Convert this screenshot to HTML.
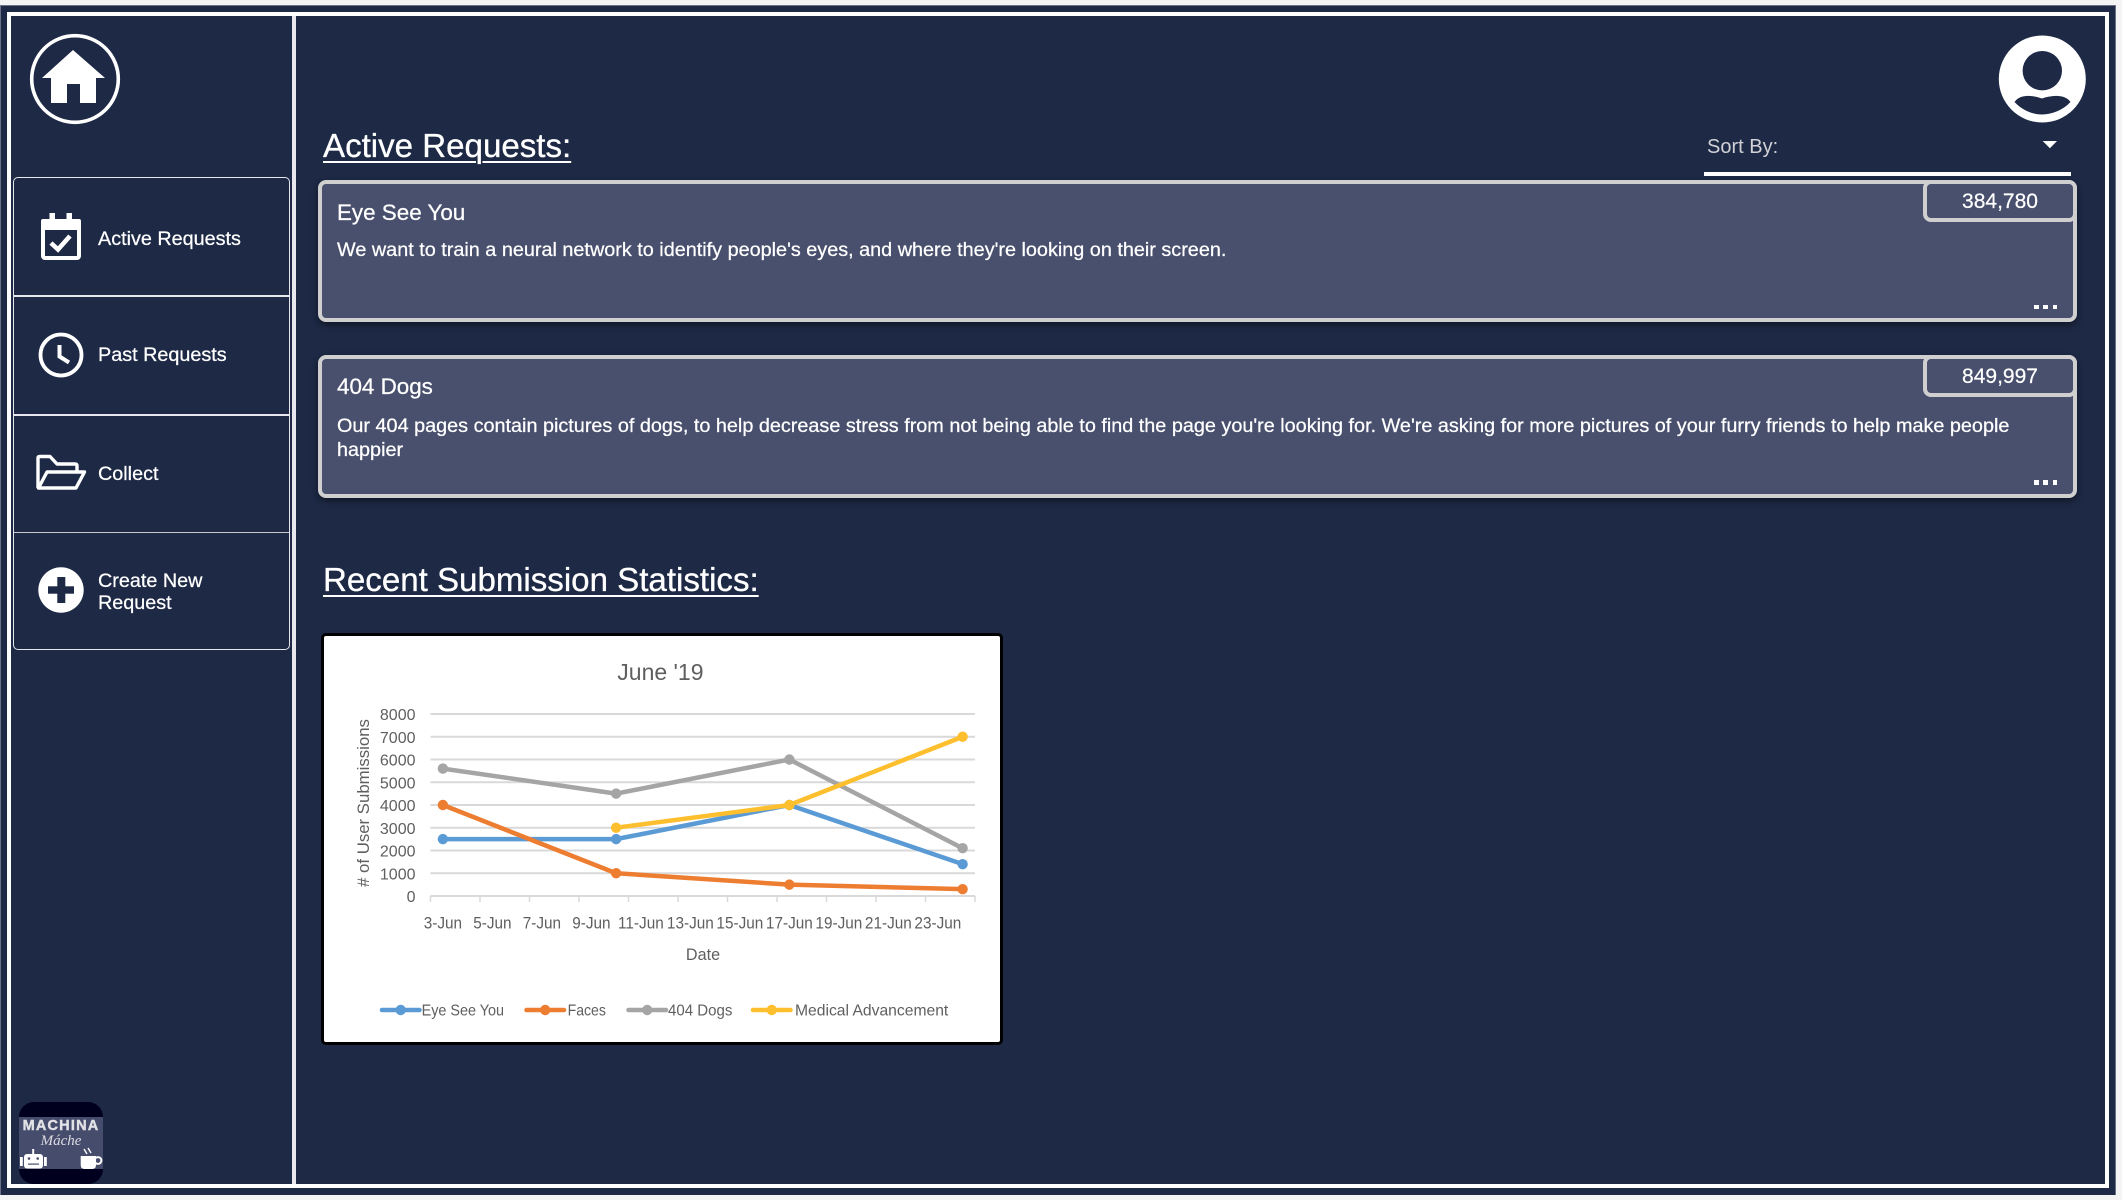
<!DOCTYPE html>
<html lang="en">
<head>
<meta charset="utf-8">
<title>Active Requests</title>
<style>
html,body{margin:0;padding:0;width:2122px;height:1200px;overflow:hidden;background:#f4f4f4;font-family:"Liberation Sans",Arial,sans-serif;color:#fff}
.abs,.t{position:absolute}
.t{white-space:nowrap;line-height:1}
#stage{position:absolute;left:0;top:5px;width:2116px;height:1190px;background:#1d2945;box-shadow:inset 1px 0 0 #6b7288,inset 0 1px 0 #6b7288,inset -1px 0 0 #6b7288}
.h{font-size:33.1px;text-decoration:underline;text-decoration-thickness:2px;text-underline-offset:4px;left:323px;-webkit-text-stroke:.3px #fff}
.nav{font-size:19.8px;left:98px;-webkit-text-stroke:.25px #fff}
.card{left:318px;width:1759px;box-sizing:border-box;background:#49506d;border:4px solid #cfcfcf;border-radius:8px;box-shadow:0 3px 7px rgba(0,0,0,.45)}
.badge{left:1923px;width:154px;height:42px;box-sizing:border-box;border:4px solid #cfcfcf;border-radius:8px;background:#49506d;font-size:21px;text-align:center;line-height:35px;-webkit-text-stroke:.2px #fff}
.ct{font-size:22.4px;left:337px;-webkit-text-stroke:.25px #fff}
.cd{font-size:19.82px;line-height:24px;left:337px;-webkit-text-stroke:.25px #fff}
.dot{position:absolute;width:4.6px;height:4.2px;background:#fff}
</style>
</head>
<body>
<div id="stage"></div>

<!-- frame -->
<div class="abs" style="left:7px;top:12px;width:2102px;height:1176px;box-sizing:border-box;border:4px solid #fff"></div>
<div class="abs" style="left:292px;top:16px;width:3.5px;height:1168px;background:#e8e8ee"></div>

<!-- home -->
<svg class="abs" style="left:28px;top:32px" width="96" height="96" viewBox="28 32 96 96">
  <circle cx="75" cy="79" r="43.3" fill="none" stroke="#fff" stroke-width="3.6"/>
  <path d="M73 50 L105 78 L96 78 L96 103 L80 103 L80 84 L67 84 L67 103 L51 103 L51 78 L42 78 Z" fill="#fff"/>
</svg>

<!-- nav -->
<div class="abs" style="left:13px;top:177px;width:277px;height:473px;box-sizing:border-box;border:1.5px solid #e6e6ec;border-radius:5px"></div>
<div class="abs" style="left:14px;top:295px;width:275px;height:1.5px;background:#e6e6ec"></div>
<div class="abs" style="left:14px;top:414px;width:275px;height:1.5px;background:#e6e6ec"></div>
<div class="abs" style="left:14px;top:531.5px;width:275px;height:1.5px;background:#c9c9d0"></div>

<svg class="abs" style="left:36px;top:208px" width="52" height="58" viewBox="36 208 52 58">
  <rect x="43" y="221" width="36" height="37" rx="2" fill="none" stroke="#fff" stroke-width="4"/>
  <rect x="41" y="219" width="40" height="11" rx="2" fill="#fff"/>
  <rect x="49.5" y="213" width="5.5" height="9" fill="#fff"/>
  <rect x="66.5" y="213" width="5.5" height="9" fill="#fff"/>
  <path d="M51 243 L58 249.5 L70 236" fill="none" stroke="#fff" stroke-width="4.6"/>
</svg>
<div class="t nav" style="top:230px">Active Requests</div>

<svg class="abs" style="left:36px;top:330px" width="50" height="50" viewBox="36 330 50 50">
  <circle cx="61" cy="355" r="20.5" fill="none" stroke="#fff" stroke-width="3.8"/>
  <path d="M59.5 345 L59.5 356.5 L69 362.5" fill="none" stroke="#fff" stroke-width="4"/>
</svg>
<div class="t nav" style="top:346px">Past Requests</div>

<svg class="abs" style="left:32px;top:450px" width="58" height="44" viewBox="32 450 58 44">
  <path d="M38 488 L38 458 Q38 456.5 40 456.5 L50 456.5 L57 464 L75 464 Q77 464 77 466 L77 471" fill="none" stroke="#fff" stroke-width="3.4" stroke-linejoin="round"/>
  <path d="M38.5 488 L47 472 L84.5 472 L76 488 Z" fill="none" stroke="#fff" stroke-width="3.4" stroke-linejoin="round"/>
</svg>
<div class="t nav" style="top:465px">Collect</div>

<svg class="abs" style="left:36px;top:565px" width="50" height="50" viewBox="36 565 50 50">
  <circle cx="61" cy="590" r="22.7" fill="#fff"/>
  <rect x="48" y="586.3" width="26" height="7.4" fill="#1d2945"/>
  <rect x="57.3" y="577" width="8" height="26" fill="#1d2945"/>
</svg>
<div class="t nav" style="top:570px;line-height:22px">Create New<br>Request</div>

<!-- logo -->
<div class="abs" style="left:19px;top:1102px;width:84px;height:82px;border-radius:15px;background:#00001e;overflow:hidden">
  <div class="abs" style="left:0;top:15px;width:84px;height:52px;background:#464c6b"></div>
  <div class="t" style="left:0;width:84px;text-align:center;top:16.5px;font-size:14.5px;font-weight:bold;letter-spacing:1.2px;color:#e2e2e6;-webkit-text-stroke:.4px #e2e2e6">MACHINA</div>
  <div class="t" style="left:0;width:84px;text-align:center;top:32px;font-size:15px;font-family:'Liberation Serif',serif;font-style:italic;color:#dcdce2">Máche</div>
  <svg class="abs" style="left:0;top:0" width="84" height="82" viewBox="19 1102 84 82">
    <rect x="24" y="1154" width="19" height="14.5" rx="3" fill="#fff"/>
    <rect x="20" y="1157" width="2.8" height="9" fill="#fff"/>
    <rect x="44" y="1157" width="2.8" height="9" fill="#fff"/>
    <rect x="32.2" y="1149" width="2" height="5.5" fill="#fff"/>
    <circle cx="29" cy="1158.5" r="1.3" fill="#464c6b"/>
    <circle cx="37.7" cy="1158.5" r="1.3" fill="#464c6b"/>
    <rect x="28" y="1163.5" width="11" height="1.2" fill="#464c6b"/>
    <path d="M80.7 1156 H96 V1165 Q96 1169 92 1169 H84.7 Q80.7 1169 80.7 1165 Z" fill="#fff"/>
    <circle cx="98" cy="1160.5" r="3.4" fill="none" stroke="#fff" stroke-width="2"/>
    <path d="M84 1149 L87 1154 M88 1148 L91 1153" stroke="#fff" stroke-width="1.4"/>
  </svg>
</div>

<!-- avatar -->
<svg class="abs" style="left:1996px;top:33px" width="92" height="92" viewBox="1996 33 92 92">
  <circle cx="2042.3" cy="79" r="43.5" fill="#fff"/>
  <circle cx="2042.3" cy="70.7" r="19.7" fill="#1d2945"/>
  <path d="M2014.5 102 C2020 94 2032 95 2042 98.5 C2052 95 2065 94 2070.5 102 C2063 110 2052 114.5 2042 114.5 C2032 114.5 2022 110 2014.5 102 Z" fill="#1d2945"/>
</svg>

<!-- Section heading -->
<div class="t h" style="top:130px">Active Requests:</div>

<!-- sort -->
<div class="t" style="left:1707px;top:137px;font-size:20px;color:#d2d2d6">Sort By:</div>
<svg class="abs" style="left:2042px;top:140px" width="16" height="9" viewBox="0 0 16 9"><path d="M0.7 1 H15 L7.9 8.2 Z" fill="#fff"/></svg>
<div class="abs" style="left:1704px;top:172px;width:367px;height:3.6px;background:#fff"></div>

<!-- Card 1 -->
<div class="abs card" style="top:180px;height:142px"></div>
<div class="t ct" style="top:202px">Eye See You</div>
<div class="t cd" style="top:238px">We want to train a neural network to identify people's eyes, and where they're looking on their screen.</div>
<div class="abs badge" style="top:180px">384,780</div>
<div class="dot" style="left:2034.3px;top:304.6px"></div>
<div class="dot" style="left:2043.4px;top:304.6px"></div>
<div class="dot" style="left:2052.6px;top:304.6px"></div>

<!-- Card 2 -->
<div class="abs card" style="top:355px;height:143px"></div>
<div class="t ct" style="top:375.7px">404 Dogs</div>
<div class="t cd" style="top:413.8px">Our 404 pages contain pictures of dogs, to help decrease stress from not being able to find the page you're looking for. We're asking for more pictures of your furry friends to help make people<br>happier</div>
<div class="abs badge" style="top:355px">849,997</div>
<div class="dot" style="left:2034.3px;top:480.4px"></div>
<div class="dot" style="left:2043.4px;top:480.4px"></div>
<div class="dot" style="left:2052.6px;top:480.4px"></div>

<div class="t h" style="top:563.5px">Recent Submission Statistics:</div>

<!-- Chart card -->
<div class="abs" style="left:321px;top:633px;width:682px;height:412px;box-sizing:border-box;border:3px solid #000;border-radius:5px;background:#fff"></div>
<svg id="chart" class="abs" style="left:324px;top:636px" width="676" height="406" viewBox="324 636 676 406"></svg>

<script>
var chartTitle = "June '19";
var xAxisTitle = "Date";
var yAxisTitle = "# of User Submissions";
var seriesDays = [3, 10, 17, 24];
var seriesNames = ["Eye See You", "Faces", "404 Dogs", "Medical Advancement"];
var eyeSeeYou = [2500, 2500, 4000, 1400];
var faces = [4000, 1000, 500, 300];
var dogs404 = [5600, 4500, 6000, 2100];
var medicalAdvancement = [null, 3000, 4000, 7000];
var yTicks = [0, 1000, 2000, 3000, 4000, 5000, 6000, 7000, 8000];
var xTickDays = [3, 5, 7, 9, 11, 13, 15, 17, 19, 21, 23];
var xTickLabels = ["3-Jun", "5-Jun", "7-Jun", "9-Jun", "11-Jun", "13-Jun", "15-Jun", "17-Jun", "19-Jun", "21-Jun", "23-Jun"];

(function () {
  var svg = document.getElementById('chart');
  var NS = 'http://www.w3.org/2000/svg';
  var PLOT = { left: 430.5, right: 975, top: 714, bottom: 896, dayMin: 3, dayMax: 25, yMax: 8000 };
  var seriesValues = [eyeSeeYou, faces, dogs404, medicalAdvancement];
  var seriesColors = ['#5b9bd5', '#ed7d31', '#a5a5a5', '#fdbf2d'];
  var seriesSlugs = ['eye-see-you', 'faces', '404-dogs', 'medical-advancement'];
  var legendLineLeft = [382, 526.5, 628.5, 753];
  var legendTextLeft = [421.6, 567.6, 668, 795];
  var legendTextScale = [0.9, 0.88, 0.94, 0.98];
  var TEXT = '#5f5f5f';

  function xOfBand(day) {
    return PLOT.left + (day - PLOT.dayMin) * (PLOT.right - PLOT.left) / (PLOT.dayMax - PLOT.dayMin);
  }
  function xOf(day) { return xOfBand(day + 0.5); }
  function yOf(v) { return PLOT.bottom - (v / PLOT.yMax) * (PLOT.bottom - PLOT.top); }
  function make(tag, attrs) {
    var n = document.createElementNS(NS, tag);
    for (var k in attrs) n.setAttribute(k, attrs[k]);
    svg.appendChild(n);
    return n;
  }
  function label(str, x, y, size, sx, anchor, rot) {
    var t = make('text', {
      transform: 'translate(' + x + ' ' + y + ')' + (rot ? ' rotate(' + rot + ')' : '') + ' scale(' + sx + ' 1)',
      'font-size': size, fill: TEXT, 'text-anchor': anchor,
      'font-family': '"Liberation Sans", Arial, sans-serif'
    });
    t.textContent = str;
    return t;
  }

  var tt = label(chartTitle, 660.4, 680, 23, 1, 'middle');
  
  

  yTicks.forEach(function (v) {
    var isBase = v === 0;
    var gl = make('line', { x1: PLOT.left, x2: PLOT.right, y1: yOf(v), y2: yOf(v), stroke: '#d9d9d9', 'stroke-width': 2 });
    
    
    var tl = label(String(v), 415.5, yOf(v) + 6, 16, 1, 'end');
    
    
  });

  xTickDays.concat([PLOT.dayMax]).forEach(function (d) {
    var tk = make('line', { x1: xOfBand(d), x2: xOfBand(d), y1: PLOT.bottom, y2: PLOT.bottom + 6, stroke: '#d9d9d9', 'stroke-width': 1.5 });
    
    
  });
  xTickDays.forEach(function (d, i) {
    var tl = label(xTickLabels[i], xOf(d), 928.5, 16.5, 0.93, 'middle');
    
    
  });

  var xt = label(xAxisTitle, 703, 960, 16.5, 0.98, 'middle');
  
  
  var yt = label(yAxisTitle, 369, 803, 16.8, 1, 'middle', -90);
  
  

  seriesValues.forEach(function (vals, s) {
    var pts = [];
    vals.forEach(function (v, i) {
      if (v !== null) pts.push([xOf(seriesDays[i]), yOf(v)]);
    });
    var line = make('polyline', {
      points: pts.map(function (p) { return p[0] + ',' + p[1]; }).join(' '),
      fill: 'none', stroke: seriesColors[s], 'stroke-width': 4.5, 'stroke-linejoin': 'round', 'stroke-linecap': 'round'
    });
    
    
    pts.forEach(function (p) {
      var c = make('circle', { cx: p[0], cy: p[1], r: 5.2, fill: seriesColors[s] });
      
      
    });

    var ly = 1010;
    var ll = make('line', { x1: legendLineLeft[s], x2: legendLineLeft[s] + 37.5, y1: ly, y2: ly, stroke: seriesColors[s], 'stroke-width': 4.5, 'stroke-linecap': 'round' });
    
    
    var lc = make('circle', { cx: legendLineLeft[s] + 18.7, cy: ly, r: 5.2, fill: seriesColors[s] });
    
    
    var lt = label(seriesNames[s], legendTextLeft[s], ly + 5.5, 16, legendTextScale[s], 'start');
    
    
  });
})();
</script>
</body>
</html>
